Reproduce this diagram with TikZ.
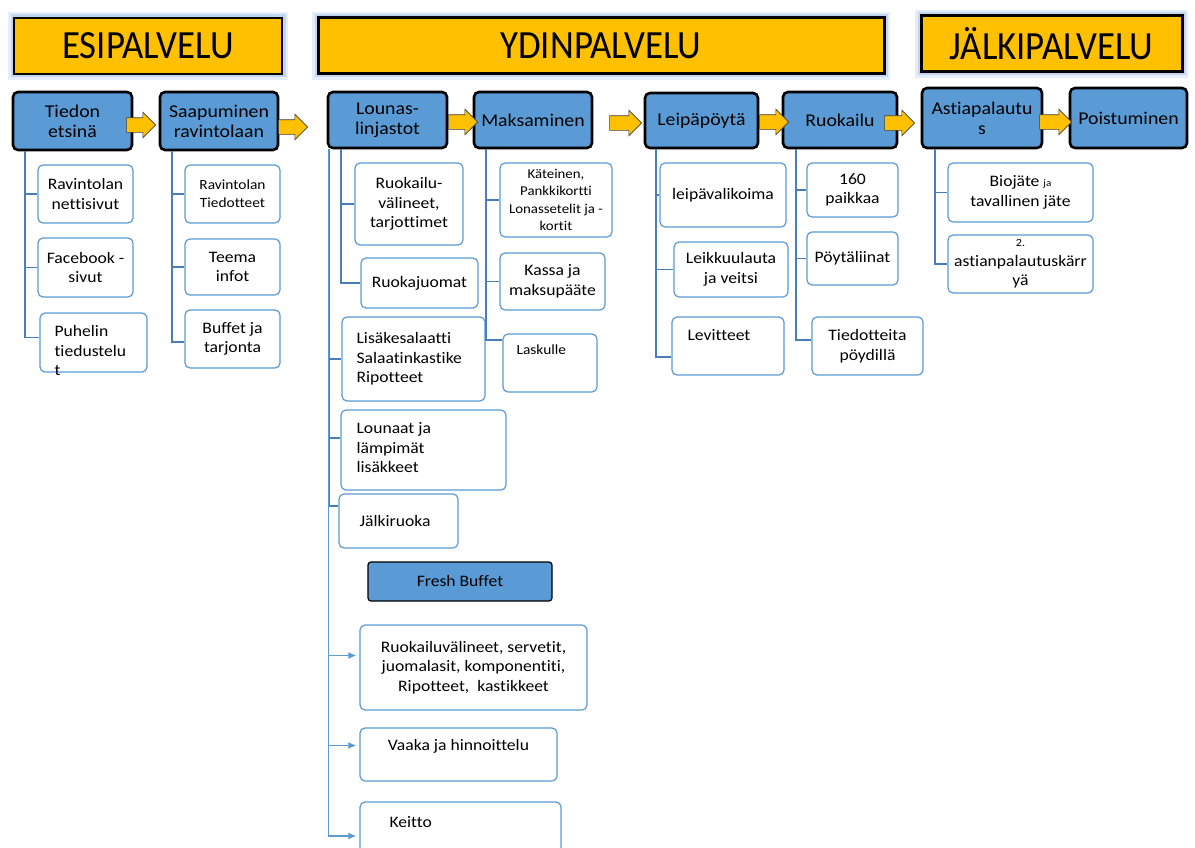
\documentclass[tikz,border=0pt]{standalone}
\usepackage{fontspec}
\setmainfont[Ligatures=NoCommon]{Carlito}
\newfontfamily\widefont[FakeStretch=1.1,Ligatures=NoCommon]{Carlito}
\newfontfamily\headfont[FakeStretch=0.92,Ligatures=NoCommon]{Carlito}
\usetikzlibrary{shapes.arrows,arrows.meta}

\definecolor{headyellow}{HTML}{FFC000}
\definecolor{procblue}{HTML}{5B9BD5}
\definecolor{subline}{HTML}{5B9BD5}
\definecolor{connblue}{HTML}{4A7EBB}
\definecolor{glowblue}{HTML}{A8C4F0}

\begin{document}
\begin{tikzpicture}[x=1pt, y=-1pt,
    header/.style={draw=black, fill=headyellow, line width=#1, minimum height=56, inner sep=0pt,
        font=\headfont\fontsize{40}{42}\selectfont,
        preaction={draw=glowblue!30, line width=12pt},
        preaction={draw=glowblue!70, line width=7pt}},
    procbox/.style={draw=black, fill=procblue, line width=2.6pt, rounded corners=5pt,
        align=center, inner sep=1pt, font=\widefont\fontsize{18}{20}\selectfont},
    subbox/.style={draw=subline, fill=white, line width=1.2pt, rounded corners=5pt,
        align=center, inner sep=1pt, font=\widefont\fontsize{16}{19.5}\selectfont},
    subtext/.style={align=left, inner sep=0pt, font=\widefont\fontsize{16}{19.5}\selectfont},
    flowarrow/.style={single arrow, draw=black!75, fill=headyellow, line width=0.6pt,
        minimum height=29, text height=14pt, text depth=0pt, text width=0pt,
        single arrow head extend=5.5pt, inner sep=0pt},
    trunk/.style={draw=connblue, line width=1.8pt},
    feed/.style={draw=subline, line width=1.5pt, -{Latex[length=8pt,width=7pt]}, shorten >=3pt}
]
    \useasboundingbox (0,0) rectangle (1195,848);
    \fill[white] (0,0) rectangle (1195,848);
    \clip (0,0) rectangle (1195,848);

    % phases
    \node[header=1.5pt, minimum width=268] (esi) at (148,46) {ESIPALVELU};
    \node[header=3pt, minimum width=566] (ydin) at (601,46) {YDINPALVELU};
    \node[header=3pt, minimum width=261] (jalki) at (1051.5,44) {JÄLKIPALVELU};

    % process steps
    \node[procbox, minimum width=119, minimum height=58] (tied) at (72.5,121) {Tiedon\\etsinä};
    \node[procbox, minimum width=118, minimum height=58] (saap) at (219,121) {Saapuminen\\ravintolaan};
    \node[procbox, minimum width=119, minimum height=56] (lounas) at (387.5,120) {Lounas-\\linjastot};
    \node[procbox, minimum width=118, minimum height=56] (maks) at (533,120) {Maksaminen};
    \node[procbox, minimum width=113, minimum height=55] (leipa) at (701.5,120.5) {Leipäpöytä};
    \node[procbox, minimum width=114, minimum height=56] (ruok) at (840,120) {Ruokailu};
    \node[procbox, minimum width=120, minimum height=60] (astia) at (982,118) {Astiapalautu\\s};
    \node[procbox, minimum width=117, minimum height=60] (poist) at (1128.5,118) {Poistuminen};

    % esipalvelu
    \node[subbox, minimum width=95, minimum height=58] (ravnet) at (85.5,194) {Ravintolan\\nettisivut};
    \node[subbox, minimum width=95, minimum height=59] (fbook) at (85.5,267.5) {Facebook -\\sivut};
    \node[subbox, minimum width=107, minimum height=59] (puhelin) at (93.5,342.5) {};
    \node[subtext, anchor=north west] (puhtxt) at ([xshift=15pt,yshift=-13pt]puhelin.north west) {Puhelin\\tiedustelu\\t};
    \node[subbox, minimum width=95, minimum height=58, font=\widefont\fontsize{14}{18}\selectfont] (ravtied) at (232.5,194) {Ravintolan\\Tiedotteet};
    \node[subbox, minimum width=95, minimum height=56] (teema) at (232.5,267) {Teema\\infot};
    \node[subbox, minimum width=95, minimum height=58] (buffet) at (232.5,339) {Buffet ja\\tarjonta};

    % lounaslinjastot
    \node[subbox, minimum width=108, minimum height=82] (valineet) at (409,204) {Ruokailu-\\välineet,\\tarjottimet};
    \node[subbox, minimum width=117, minimum height=50] (juomat) at (419.5,283) {Ruokajuomat};
    \node[subbox, minimum width=143, minimum height=84] (lisake) at (413.5,359) {};
    \node[subtext, anchor=north west] (lisaketxt) at ([xshift=15pt,yshift=-16pt]lisake.north west) {Lisäkesalaatti\\Salaatinkastike\\Ripotteet};
    \node[subbox, minimum width=165, minimum height=80] (lounaat) at (423.5,450) {};
    \node[subtext, anchor=north west] (lounaattxt) at ([xshift=16pt,yshift=-13pt]lounaat.north west) {Lounaat ja\\lämpimät\\lisäkkeet};
    \node[subbox, minimum width=119, minimum height=54] (jalkir) at (398.5,521) {};
    \node[subtext, anchor=west] (jalkirtxt) at ([xshift=21pt]jalkir.west) {Jälkiruoka};
    \node[procbox, minimum width=184, minimum height=39, line width=1.2pt, rounded corners=3pt,
        font=\widefont\fontsize{16}{19}\selectfont] (fresh) at (460,581.5) {Fresh Buffet};
    \node[subbox, minimum width=227, minimum height=85] (fbval) at (473.5,667.5) {Ruokailuvälineet, servetit,\\juomalasit, komponentiti,\\Ripotteet,~ kastikkeet};
    \node[subbox, minimum width=197, minimum height=53] (vaaka) at (458.5,754.5) {};
    \node[subtext, anchor=north] (vaakatxt) at ([yshift=-12pt]vaaka.north) {Vaaka ja hinnoittelu};
    \node[subbox, minimum width=201, minimum height=68] (keitto) at (460.5,836) {};
    \node[subtext, anchor=north west] (keittotxt) at ([xshift=30pt,yshift=-15pt]keitto.north west) {Keitto};

    % maksaminen
    \node[subbox, minimum width=112, minimum height=74, font=\widefont\fontsize{13.5}{17.5}\selectfont] (kateinen) at (556,200) {Käteinen,\\Pankkikortti\\Lonassetelit ja -\\kortit};
    \node[subbox, minimum width=105, minimum height=57] (kassa) at (552.5,281.5) {Kassa ja\\maksupääte};
    \node[subbox, minimum width=94, minimum height=58] (laskulle) at (550,363) {};
    \node[subtext, anchor=north west, font=\widefont\fontsize{14}{18}\selectfont] (laskulletxt) at ([xshift=14pt,yshift=-11pt]laskulle.north west) {Laskulle};

    % leipapoyta
    \node[subbox, minimum width=126, minimum height=64] (leipval) at (723,195) {leipävalikoima};
    \node[subbox, minimum width=114, minimum height=55] (leikku) at (731,269.5) {Leikkuulauta\\ja veitsi};
    \node[subbox, minimum width=112, minimum height=58] (levit) at (728,346) {};
    \node[subtext, anchor=north west] (levittxt) at ([xshift=16pt,yshift=-13pt]levit.north west) {Levitteet};

    % ruokailu
    \node[subbox, minimum width=91, minimum height=54] (paikkaa) at (852.5,190) {160\\paikkaa};
    \node[subbox, minimum width=91, minimum height=53] (poytal) at (852.5,258.5) {Pöytäliinat};
    \node[subbox, minimum width=111, minimum height=58] (tiedpoyd) at (867.5,346) {Tiedotteita\\pöydillä};

    % astiapalautus
    \node[subbox, minimum width=145, minimum height=59] (bio) at (1020.5,192.5) {Biojäte {\fontsize{10}{12}\selectfont ja}\\tavallinen jäte};
    \node[subbox, minimum width=145, minimum height=58] (karry) at (1020.5,264) {{\fontsize{11}{12}\selectfont 2.}\\astianpalautuskärr\\yä};

    % connectors
    \draw[trunk] (tied.south west) ++(13,0) coordinate (t1) |- (ravnet.west);
    \draw[trunk] (t1) |- (fbook.west);
    \draw[trunk] (t1) |- ([yshift=5pt]puhelin.west);

    \draw[trunk] (saap.south west) ++(13,0) coordinate (t2) |- (ravtied.west);
    \draw[trunk] (t2) |- (teema.west);
    \draw[trunk] (t2) |- ([yshift=-3pt]buffet.west);

    \draw[trunk] (lounas.south west) ++(14,0) coordinate (t3) |- (valineet.west);
    \draw[trunk] (t3) |- (juomat.west);
    \draw[trunk] (lounas.south west) ++(2,0) coordinate (t3o) |- (lisake.west);
    \draw[trunk] (t3o) |- ([yshift=12pt]lounaat.west);
    \draw[trunk] (t3o) |- ([yshift=15pt]jalkir.west);
    \draw[feed] (t3o) |- ([yshift=12pt]fbval.west);
    \draw[feed] (t3o) |- ([yshift=9pt]vaaka.west);
    \draw[feed] (t3o) |- (keitto.west);

    \draw[trunk] (maks.south west) ++(13,0) coordinate (t4) |- (kateinen.west);
    \draw[trunk] (t4) |- (kassa.west);
    \draw[trunk] (t4) |- ([yshift=23pt]laskulle.west);

    \draw[trunk] (leipa.south west) ++(12,0) coordinate (t5) |- (leipval.west);
    \draw[trunk] (t5) |- (leikku.west);
    \draw[trunk] (t5) |- ([yshift=-11pt]levit.west);

    \draw[trunk] (ruok.south west) ++(14,0) coordinate (t6) |- (paikkaa.west);
    \draw[trunk] (t6) |- (poytal.west);
    \draw[trunk] (t6) |- ([yshift=6pt]tiedpoyd.west);

    \draw[trunk] (astia.south west) ++(14,0) coordinate (t7) |- (bio.west);
    \draw[trunk] (t7) |- (karry.west);

    % flow arrows
    \node[flowarrow, anchor=west] (a1) at ([xshift=-7pt,yshift=-4pt]tied.east) {};
    \node[flowarrow, anchor=west] (a2) at ([xshift=-1pt,yshift=-6pt]saap.east) {};
    \node[flowarrow, anchor=west] (a3) at ([yshift=-2pt]lounas.east) {};
    \node[flowarrow, anchor=west, minimum height=32] (a4) at ([xshift=16pt,yshift=-3pt]maks.east) {};
    \node[flowarrow, anchor=west] (a5) at ([yshift=-1.5pt]leipa.east) {};
    \node[flowarrow, anchor=west, minimum height=30] (a6) at ([xshift=-14pt,yshift=-3pt]ruok.east) {};
    \node[flowarrow, anchor=west, minimum height=32] (a7) at ([xshift=-4pt,yshift=-4pt]astia.east) {};
\end{tikzpicture}
\end{document}
